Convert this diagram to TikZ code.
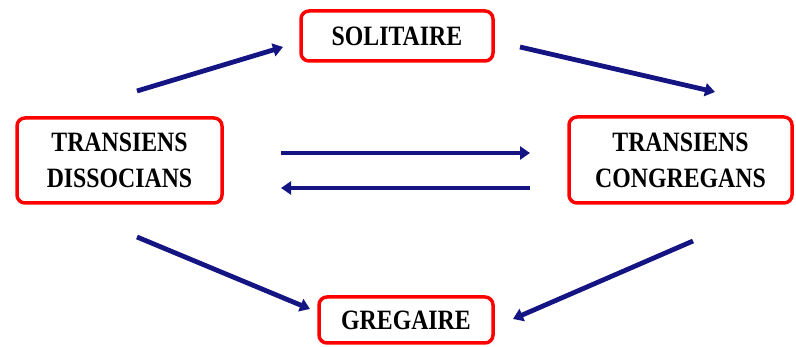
\documentclass[tikz,border=0pt]{standalone}
\usepackage{fontspec}
\setmainfont{Liberation Serif}
\newfontfamily\boxfont[FakeStretch=0.85]{Liberation Serif}
\usetikzlibrary{arrows.meta}
\definecolor{boxred}{RGB}{255,0,0}
\definecolor{navy}{RGB}{20,20,130}
\tikzset{
  phase/.style={draw=boxred, line width=3.5pt, rounded corners=8pt, fill=white,
    align=center, inner sep=0pt, font=\boxfont\fontsize{28}{36}\selectfont\bfseries},
  flow/.style={draw=navy, line width=4.8pt, -{Triangle[length=10pt,width=13pt]}}
}
\begin{document}
\begin{tikzpicture}[x=1pt,y=-1pt]
  \useasboundingbox (0,0) rectangle (796,347);
  % phase boxes
  \node[phase, minimum width=192pt, minimum height=50pt] (sol) at (397,36) {SOLITAIRE};
  \node[phase, minimum width=205pt, minimum height=85pt] (dis) at (119.5,160.5) {TRANSIENS\\DISSOCIANS};
  \node[phase, minimum width=223pt, minimum height=86pt] (con) at (680.5,160) {TRANSIENS\\CONGREGANS};
  \node[phase, minimum width=174pt, minimum height=46pt] (gre) at (406,320) {GREGAIRE};
  % arrow end points
  \coordinate (a1s) at (137,91);  \coordinate (a1e) at (283,47);
  \coordinate (a2s) at (520,47);  \coordinate (a2e) at (715,92);
  \coordinate (a3s) at (281,153); \coordinate (a3e) at (530,153);
  \coordinate (a4s) at (530,188); \coordinate (a4e) at (281,188);
  \coordinate (a5s) at (137,237); \coordinate (a5e) at (310,309);
  \coordinate (a6s) at (693,241); \coordinate (a6e) at (513,319);
  % transitions between phases
  \draw[flow] (a1s) -- (a1e);
  \draw[flow] (a2s) -- (a2e);
  \draw[flow] (a3s) -- (a3e);
  \draw[flow] (a4s) -- (a4e);
  \draw[flow] (a5s) -- (a5e);
  \draw[flow] (a6s) -- (a6e);
\end{tikzpicture}
\end{document}
